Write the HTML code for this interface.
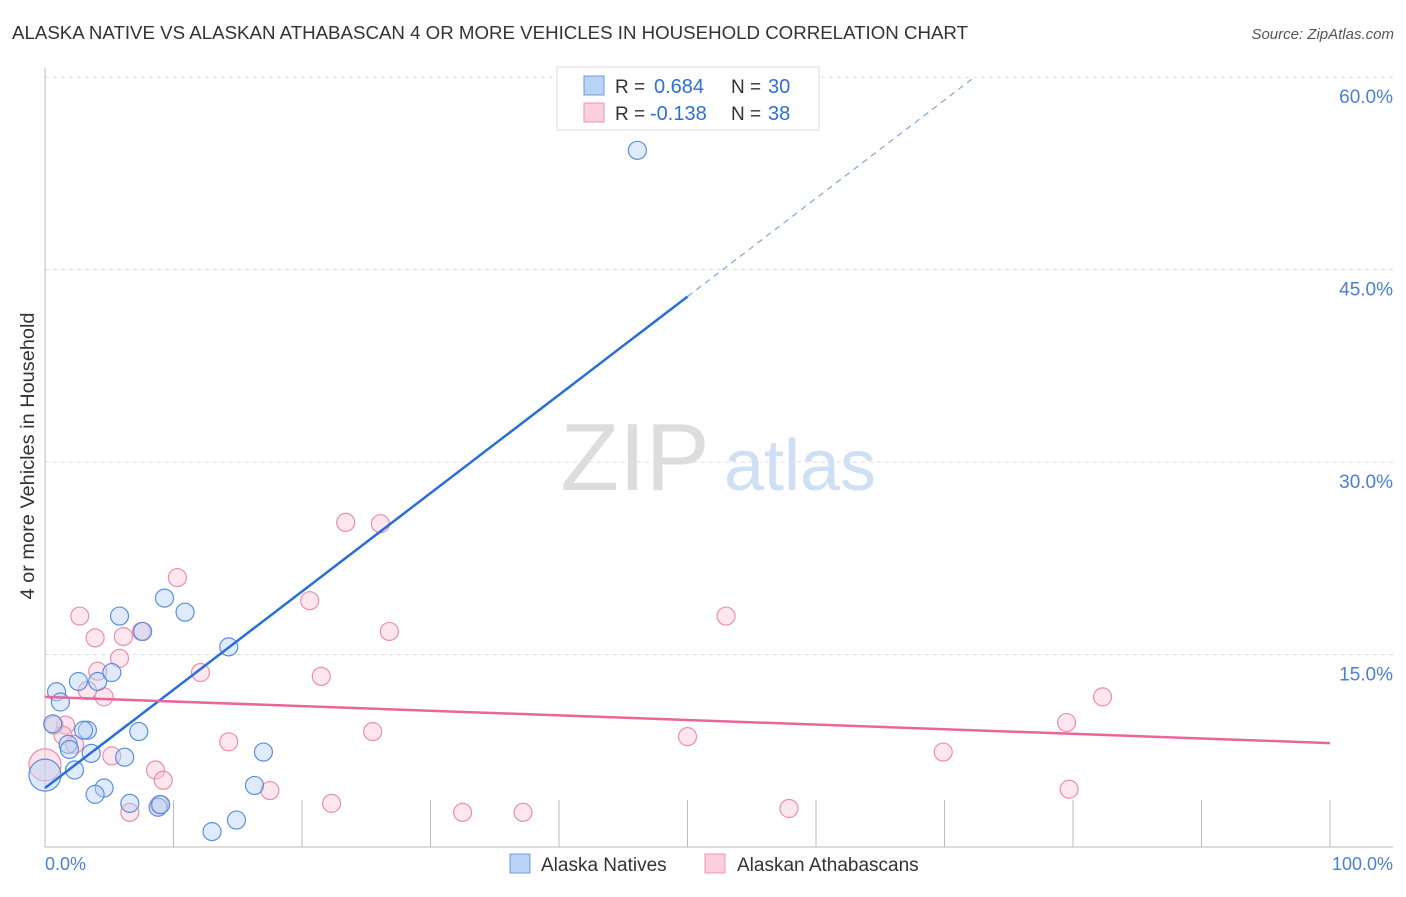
<!DOCTYPE html>
<html><head><meta charset="utf-8"><style>
body{margin:0;background:#fff;font-family:"Liberation Sans",sans-serif}
svg text{font-family:"Liberation Sans",sans-serif}
</style></head><body>
<svg width="1406" height="892" viewBox="0 0 1406 892" xmlns="http://www.w3.org/2000/svg">
<text x="12" y="39" font-size="18" fill="#333" textLength="956" lengthAdjust="spacingAndGlyphs">ALASKA NATIVE VS ALASKAN ATHABASCAN 4 OR MORE VEHICLES IN HOUSEHOLD CORRELATION CHART</text>
<text x="1394" y="39" font-size="15" fill="#555" text-anchor="end" font-style="italic">Source: ZipAtlas.com</text>
<text x="635" y="490" font-size="96" fill="#ddd" font-family="Liberation Serif" text-anchor="middle">ZIP</text>
<text x="800" y="490" font-size="72" fill="#cfe0f5" text-anchor="middle">atlas</text>
<g id="grid"></g>
<g id="axes"></g>
<g id="marks"></g>
<text transform="translate(34,456) rotate(-90)" font-size="19" fill="#333" text-anchor="middle" textLength="287" lengthAdjust="spacingAndGlyphs">4 or more Vehicles in Household</text>
<text x="45" y="870" font-size="18" fill="#4a7fd8">0.0%</text>
<text x="1393" y="870" font-size="18" fill="#4a7fd8" text-anchor="end">100.0%</text>
<g>
<rect x="557" y="67" width="262" height="63" fill="#fff" stroke="#ddd"/>
<rect x="584" y="76" width="20" height="19" fill="#b9d3f5" stroke="#6d9be0"/>
<rect x="584" y="103" width="20" height="19" fill="#fbd0dc" stroke="#ee94b0"/>
<text x="615" y="93" font-size="19" fill="#333">R =</text>
<text x="654" y="93" font-size="20" fill="#2f6fd6">0.684</text>
<text x="731" y="93" font-size="19" fill="#333">N =</text>
<text x="768" y="93" font-size="20" fill="#2f6fd6">30</text>
<text x="615" y="120" font-size="19" fill="#333">R =</text>
<text x="650" y="120" font-size="20" fill="#2f6fd6">-0.138</text>
<text x="731" y="120" font-size="19" fill="#333">N =</text>
<text x="768" y="120" font-size="20" fill="#2f6fd6">38</text>
</g>
<g>
<rect x="510" y="854" width="20" height="19" fill="#b9d3f5" stroke="#6d9be0"/>
<text x="541" y="871" font-size="19" fill="#333">Alaska Natives</text>
<rect x="705" y="854" width="20" height="19" fill="#fbd0dc" stroke="#ee94b0"/>
<text x="737" y="871" font-size="19" fill="#333">Alaskan Athabascans</text>
</g>
</svg>
<script>
const yTicks=[15,30,45,60];
const yTickLabels=["15.0%","30.0%","45.0%","60.0%"];
const xTicks=[10,20,30,40,50,60,70,80,90,100];
const blueX=[46.1,9.3,10.9,5.8,7.6,14.3,0.9,1.2,2.6,4.1,5.2,0.6,3.3,3.0,7.3,1.8,1.9,3.6,6.2,17.0,2.3,0,4.6,3.9,16.3,6.6,8.8,9.0,13.0,14.9];
const blueY=[54.3,19.4,18.3,18.0,16.8,15.6,12.1,11.3,12.9,12.9,13.6,9.6,9.1,9.1,9.0,8.0,7.6,7.3,7.0,7.4,6.0,5.6,4.6,4.1,4.8,3.4,3.1,3.3,1.2,2.1];
const pinkX=[23.4,26.1,10.3,20.6,2.7,53.0,7.5,3.9,6.1,26.8,5.8,4.1,12.1,21.5,3.3,4.6,82.3,1.6,0.7,1.4,2.3,25.5,79.5,50.0,14.3,69.9,5.2,0,8.6,9.2,17.5,79.7,22.3,6.6,32.5,37.2,57.9,8.9];
const pinkY=[25.3,25.2,21.0,19.2,18.0,18.0,16.8,16.3,16.4,16.8,14.7,13.7,13.6,13.3,12.2,11.7,11.7,9.5,9.5,8.7,8.0,9.0,9.7,8.6,8.2,7.4,7.1,6.4,6.0,5.2,4.4,4.5,3.4,2.7,2.7,2.7,3.0,3.3];
const blueLine=[4.6,0.766];
const pinkLine=[11.7,-0.036];
const X=v=>45+v*12.85, Y=v=>847-v*12.83;
const NS="http://www.w3.org/2000/svg";
function mk(p,t,a){const e=document.createElementNS(NS,t);for(const k in a)e.setAttribute(k,a[k]);document.getElementById(p).appendChild(e);return e;}
yTicks.forEach((t,i)=>{
 const l=mk('grid','line',{x1:45,x2:1393,y1:Y(t),y2:Y(t),stroke:'#ddd','stroke-dasharray':'4,4'});
 
 
 const tx=mk('grid','text',{x:1393,y:Y(t)+26,'font-size':19,fill:'#4a7fd8','text-anchor':'end'});
 tx.textContent=yTickLabels[i];
 
 
});
let a=mk('axes','line',{x1:45,x2:45,y1:68,y2:847,stroke:'#bbb'});


a=mk('axes','line',{x1:45,x2:1393,y1:847,y2:847,stroke:'#bbb'});


xTicks.forEach(t=>{
 const l=mk('axes','line',{x1:X(t),x2:X(t),y1:800,y2:847,stroke:'#bbb'});
 
 
});
function dots(xs,ys,fill,stroke,name){
 xs.forEach((x,i)=>{
  const big=x===0;
  const c=mk('marks','circle',{cx:X(x),cy:Y(ys[i]),r:big?16:9,fill:fill,'fill-opacity':big?0.5:0.45,stroke:stroke,'stroke-width':1.2});
  
  
 });
}
dots(pinkX,pinkY,'#fbc7d6','#ec8fac','athabascan-point');
dots(blueX,blueY,'#b9d3f5','#5b8fdc','alaska-native-point');
let l=mk('marks','line',{x1:X(0),y1:Y(blueLine[0]),x2:X(50),y2:Y(blueLine[0]+50*blueLine[1]),stroke:'#2a6fd6','stroke-width':2.5});


l=mk('marks','line',{x1:X(50),y1:Y(blueLine[0]+50*blueLine[1]),x2:X(72.1),y2:Y(blueLine[0]+72.1*blueLine[1]),stroke:'#7ea6e3','stroke-width':1.2,'stroke-dasharray':'6,5'});


l=mk('marks','line',{x1:X(0),y1:Y(pinkLine[0]),x2:X(100),y2:Y(pinkLine[0]+100*pinkLine[1]),stroke:'#e8669a','stroke-width':2.5});


</script>
</body></html>
